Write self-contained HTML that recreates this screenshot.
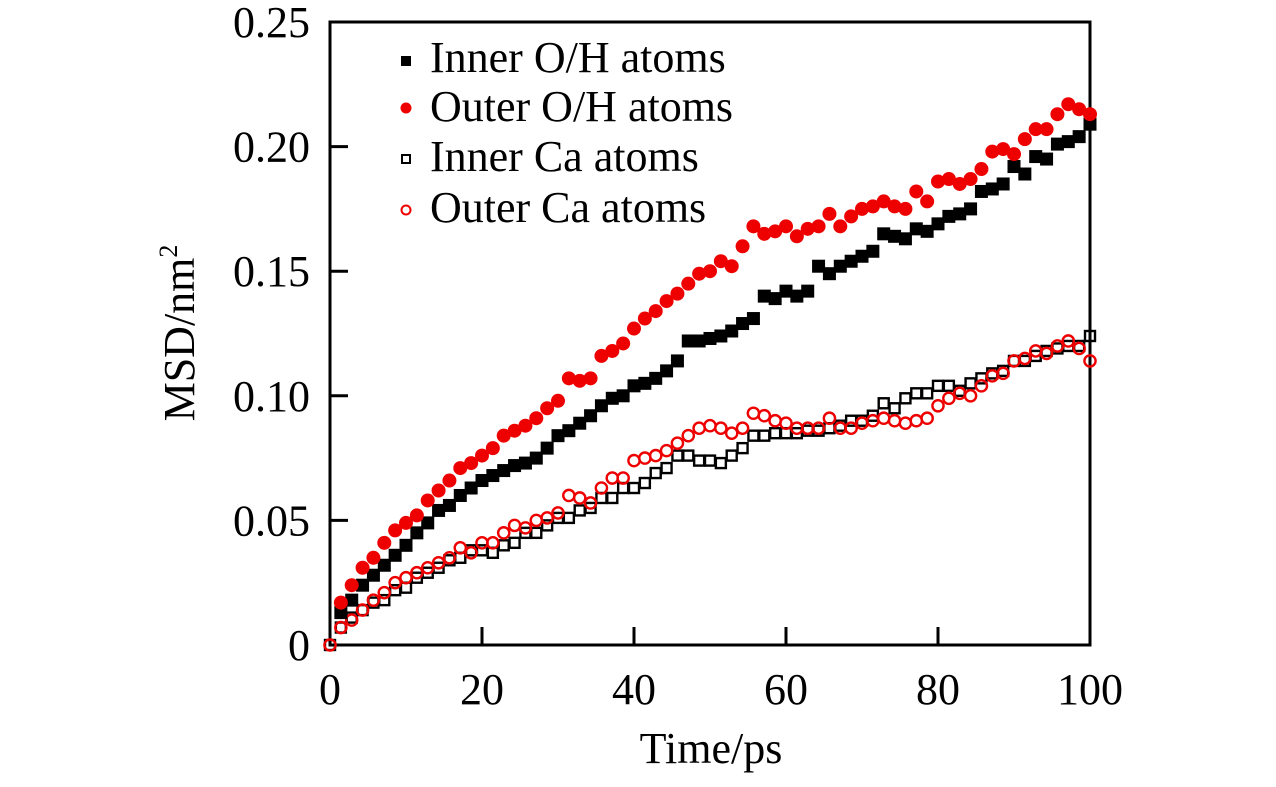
<!DOCTYPE html>
<html><head><meta charset="utf-8"><style>
body{margin:0;background:#fff;}
svg{display:block;font-family:"Liberation Serif",serif;}
</style></head><body>
<svg id="chart" width="1276" height="787" viewBox="0 0 1276 787" xmlns="http://www.w3.org/2000/svg">
<g id="axes"></g>
<g id="marks"></g>
<g id="legend">
  <rect x="401" y="56" width="10" height="10" fill="#000"/>
  <text x="430" y="72" font-size="44">Inner O/H atoms</text>
  <circle cx="406" cy="108" r="5.5" fill="#ee0000"/>
  <text x="430" y="121" font-size="44">Outer O/H atoms</text>
  <rect x="402" y="155" width="8" height="8" fill="none" stroke="#000" stroke-width="2"/>
  <text x="430" y="171" font-size="44">Inner Ca atoms</text>
  <circle cx="406" cy="210" r="4.5" fill="none" stroke="#ee0000" stroke-width="2"/>
  <text x="430" y="222" font-size="44">Outer Ca atoms</text>
</g>
<text x="711" y="763" font-size="44" text-anchor="middle">Time/ps</text>
<text transform="translate(194,333) rotate(-90)" font-size="44" text-anchor="middle">MSD/nm<tspan font-size="26" dy="-17">2</tspan></text>
</svg>
<script>
const xTicks = [0, 20, 40, 60, 80, 100];
const yTicks = [0, 0.05, 0.10, 0.15, 0.20, 0.25];
const yTickLabels = ["0", "0.05", "0.10", "0.15", "0.20", "0.25"];
const nPoints = 71;
const innerOH = [null,.013,.018,.024,.028,.032,.036,.040,.045,.049,.054,.056,.060,.063,.066,.068,.070,.072,.073,.075,.079,.084,.086,.089,.092,.096,.099,.100,.104,.105,.107,.110,.114,.122,.122,.123,.124,.126,.129,.131,.140,.139,.142,.140,.142,.152,.149,.152,.154,.156,.158,.165,.164,.163,.167,.166,.169,.172,.173,.175,.182,.183,.185,.192,.189,.196,.195,.201,.202,.204,.209];
const outerOH = [null,.017,.024,.031,.035,.041,.046,.049,.052,.058,.062,.066,.071,.073,.076,.079,.084,.086,.088,.091,.095,.098,.107,.106,.107,.116,.118,.121,.127,.131,.134,.138,.141,.145,.149,.150,.154,.152,.160,.168,.165,.166,.168,.164,.167,.168,.173,.168,.172,.175,.176,.178,.176,.175,.182,.178,.186,.187,.185,.187,.191,.198,.199,.197,.203,.207,.207,.213,.217,.215,.213];
const innerCa = [0,.007,.011,.014,.017,.018,.022,.023,.027,.029,.031,.034,.035,.038,.038,.037,.040,.041,.045,.045,.048,.051,.051,.054,.055,.059,.059,.063,.063,.065,.069,.071,.076,.076,.074,.074,.073,.076,.079,.084,.084,.085,.085,.085,.086,.086,.087,.088,.090,.090,.092,.097,.095,.099,.101,.101,.104,.104,.102,.105,.107,.109,.110,.114,.114,.116,.118,.119,.120,.120,.124];
const outerCa = [0,.007,.010,.014,.018,.021,.025,.027,.029,.031,.033,.035,.039,.037,.041,.041,.045,.048,.047,.050,.051,.053,.060,.059,.057,.063,.067,.067,.074,.075,.076,.078,.081,.084,.087,.088,.087,.085,.087,.093,.092,.090,.089,.087,.087,.087,.091,.087,.087,.089,.090,.091,.090,.089,.090,.091,.096,.099,.101,.100,.104,.108,.109,.114,.115,.118,.117,.120,.122,.119,.114];

const X0=330, X1=1090, Y0=645, Y1=22;
const xs = v => X0 + (v/100)*(X1-X0);
const ys = v => Y0 - (v/0.25)*(Y0-Y1);
const NS="http://www.w3.org/2000/svg";
function mk(tag, attrs, parent){const e=document.createElementNS(NS,tag);for(const k in attrs)e.setAttribute(k,attrs[k]);parent.appendChild(e);return e;}
const axes=document.getElementById('axes'), marks=document.getElementById('marks');
const frame=mk('rect',{x:X0,y:Y1,width:X1-X0,height:Y0-Y1,fill:'none',stroke:'#000','stroke-width':3},axes);


xTicks.forEach(t=>{
  const x=xs(t);
  if(t>0&&t<100){const l=mk('line',{x1:x,x2:x,y1:Y0,y2:Y0-18,stroke:'#000','stroke-width':3},axes);
  
  }
  const tx=mk('text',{x:x,y:Y0+59,'font-size':44,'text-anchor':'middle'},axes);tx.textContent=t;
  
  
});
yTicks.forEach((t,i)=>{
  const y=ys(t);
  if(i>0&&i<yTicks.length-1){const l=mk('line',{x1:X0,x2:X0+18,y1:y,y2:y,stroke:'#000','stroke-width':3},axes);
  
  }
  const tx=mk('text',{x:X0-20,y:y+15,'font-size':44,'text-anchor':'end'},axes);tx.textContent=yTickLabels[i];
  
  
});
function tAt(i){return i*100/(nPoints-1);}
function drawSeries(arr, kind, name){
  const g=mk('g',{},marks);
  
  
  arr.forEach((v,i)=>{
    if(v===null||v===undefined)return;
    const x=xs(tAt(i)), y=ys(v); let e;
    if(kind==='sq') e=mk('rect',{x:x-6.5,y:y-6.5,width:13,height:13,fill:'#000'},g);
    else if(kind==='ci') e=mk('circle',{cx:x,cy:y,r:7,fill:'#ee0000'},g);
    else if(kind==='osq') e=mk('rect',{x:x-5,y:y-5,width:10,height:10,fill:'none',stroke:'#000','stroke-width':2.4},g);
    else e=mk('circle',{cx:x,cy:y,r:5.6,fill:'none',stroke:'#ee0000','stroke-width':2.4},g);
    
    
  });
}
drawSeries(innerCa,'osq','inner-ca-series');
drawSeries(outerCa,'oci','outer-ca-series');
drawSeries(innerOH,'sq','inner-oh-series');
drawSeries(outerOH,'ci','outer-oh-series');
</script>
</body></html>
